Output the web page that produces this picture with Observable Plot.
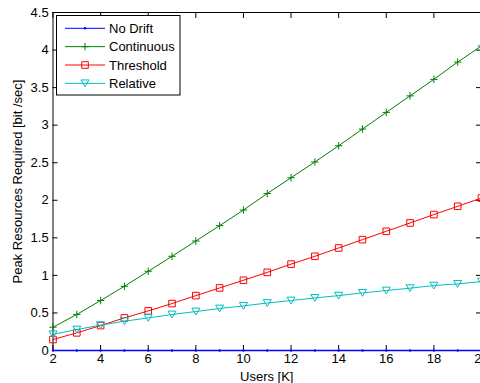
<!DOCTYPE html>
<html><head><meta charset="utf-8">
<script src="https://cdn.jsdelivr.net/npm/d3@7"></script>
<script src="https://cdn.jsdelivr.net/npm/@observablehq/plot@0.6"></script>
<style>html,body{margin:0;padding:0;background:#fff;overflow:hidden}</style>
</head><body><div id="chart"></div>
<script>
const users = [2,3,4,5,6,7,8,9,10,11,12,13,14,15,16,17,18,19,20];
const noDrift = [0,0,0,0,0,0,0,0,0,0,0,0,0,0,0,0,0,0,0];
const continuous = [0.31,0.48,0.665,0.855,1.055,1.254,1.458,1.662,1.87,2.09,2.30,2.51,2.726,2.948,3.17,3.39,3.61,3.84,4.055];
const threshold = [0.146,0.235,0.332,0.434,0.527,0.625,0.731,0.833,0.935,1.04,1.15,1.254,1.365,1.476,1.587,1.698,1.81,1.92,2.03];
const relative = [0.215,0.279,0.337,0.39,0.434,0.479,0.519,0.559,0.594,0.632,0.665,0.70,0.731,0.767,0.798,0.83,0.864,0.887,0.918];
const seriesNames = ["No Drift","Continuous","Threshold","Relative"];
const seriesColors = ["#0000ff","#008000","#ff0000","#00bfbf"];
const xTicks = [2,4,6,8,10,12,14,16,18,20];
const yTicks = [0,0.5,1,1.5,2,2.5,3,3.5,4,4.5];
const yTickLabels = ["0","0.5","1","1.5","2","2.5","3","3.5","4","4.5"];
const xLabel = "Users [K]";
const yLabel = "Peak Resources Required [bit /sec]";

const seriesValues = [noDrift, continuous, threshold, relative];
const rows = [];
seriesValues.forEach((vals, s) => users.forEach((u, i) => rows.push({series: seriesNames[s], x: u, y: vals[i]})));

const pointSym = {draw(ctx, size){ const a = Math.sqrt(size/Math.PI); ctx.moveTo(a,0); ctx.arc(0,0,a,0,2*Math.PI); }};
const plusSym = {draw(ctx, size){ const a = Math.sqrt(size/Math.PI); ctx.moveTo(-a,0); ctx.lineTo(a,0); ctx.moveTo(0,-a); ctx.lineTo(0,a); }};
const squareSym = {draw(ctx, size){ const a = Math.sqrt(size/Math.PI); ctx.rect(-a,-a,2*a,2*a); }};
const triSym = {draw(ctx, size){ const a = Math.sqrt(size/Math.PI); ctx.moveTo(-a,-a*0.85); ctx.lineTo(a,-a*0.85); ctx.lineTo(0,a*0.85); ctx.closePath(); }};
const symbols = [pointSym, plusSym, squareSym, triSym];
const symR = [1.2, 3.7, 3.3, 4];
const symFill = [true, false, false, false];
const lineW = [1.6, 1, 1, 1];

const W = 480, H = 383, ML = 52.5, MT = 12, MB = 33;
const marks = [
  Plot.ruleY([0, 4.5], {stroke: "#000", strokeWidth: 1}),
  Plot.ruleX([2], {stroke: "#000", strokeWidth: 1}),
  Plot.axisX(xTicks, {anchor: "bottom", tickSize: 0, tickPadding: 3.3, tickFormat: d => String(d), label: null}),
  Plot.axisX(xTicks, {anchor: "bottom", tickSize: 5, dy: -5, tickFormat: () => "", label: null, stroke: "#000"}),
  Plot.axisX(xTicks, {anchor: "top", tickSize: 5, dy: 5, tickFormat: () => "", label: null, stroke: "#000"}),
  Plot.axisY(yTicks, {anchor: "left", tickSize: 0, tickPadding: 4.3, tickFormat: d => yTickLabels[yTicks.indexOf(d)], label: null}),
  Plot.axisY(yTicks, {anchor: "left", tickSize: 5, dx: 5, tickFormat: () => "", label: null, stroke: "#000"}),
  Plot.axisY(yTicks, {anchor: "right", tickSize: 5, dx: -5, tickFormat: () => "", label: null, stroke: "#000"}),
  Plot.text([xLabel], {frameAnchor: "bottom", dy: 21.5, lineAnchor: "top", textAnchor: "middle", text: d => d}),
  Plot.text([yLabel], {frameAnchor: "left", dx: -40.5, rotate: -90, lineAnchor: "top", textAnchor: "middle", text: d => d})
];
seriesNames.forEach((name, s) => {
  const data = rows.filter(r => r.series === name);
  marks.push(Plot.line(data, {x: "x", y: "y", stroke: seriesColors[s], strokeWidth: lineW[s]}));
  marks.push(Plot.dot(data, {x: "x", y: "y", symbol: () => symbols[s], r: symR[s],
    stroke: symFill[s] ? "none" : seriesColors[s], fill: symFill[s] ? seriesColors[s] : "none", strokeWidth: 1}));
});

const chart = Plot.plot({
  width: W, height: H,
  marginLeft: ML, marginRight: 0, marginTop: MT, marginBottom: MB,
  style: {fontFamily: "'Liberation Sans', Arial, Helvetica, sans-serif", fontSize: "13px", color: "#000", background: "#fff"},
  x: {type: "linear", domain: [2, 20], range: [ML, 481]},
  y: {type: "linear", domain: [0, 4.5], range: [H - MB, MT]},
  symbol: {type: "identity"},
  marks
});
document.getElementById("chart").appendChild(chart);

// Legend (MATLAB-style boxed legend in the upper-left corner)
const svg = d3.select(chart);
const lg = svg.append("g").attr("class", "legend").attr("text-anchor", "start");
lg.append("rect").attr("x", 56.5).attr("y", 15.5).attr("width", 123.5).attr("height", 79.5)
  .attr("fill", "#fff").attr("stroke", "#000").attr("stroke-width", 1);
seriesNames.forEach((name, s) => {
  const cy = 28.3 + s * 18.35;
  lg.append("line").attr("x1", 65).attr("x2", 105).attr("y1", cy).attr("y2", cy)
    .attr("stroke", seriesColors[s]).attr("stroke-width", 1);
  const p = d3.path();
  symbols[s].draw(p, symR[s] * symR[s] * Math.PI);
  lg.append("path").attr("d", p.toString()).attr("transform", `translate(85,${cy})`)
    .attr("fill", symFill[s] ? seriesColors[s] : "none")
    .attr("stroke", symFill[s] ? "none" : seriesColors[s]).attr("stroke-width", 1);
  lg.append("text").attr("x", 109).attr("y", cy).attr("dy", "0.36em")
    .attr("text-anchor", "start").attr("fill", "#000").attr("font-size", 13).text(name);
});
</script>
</body></html>
